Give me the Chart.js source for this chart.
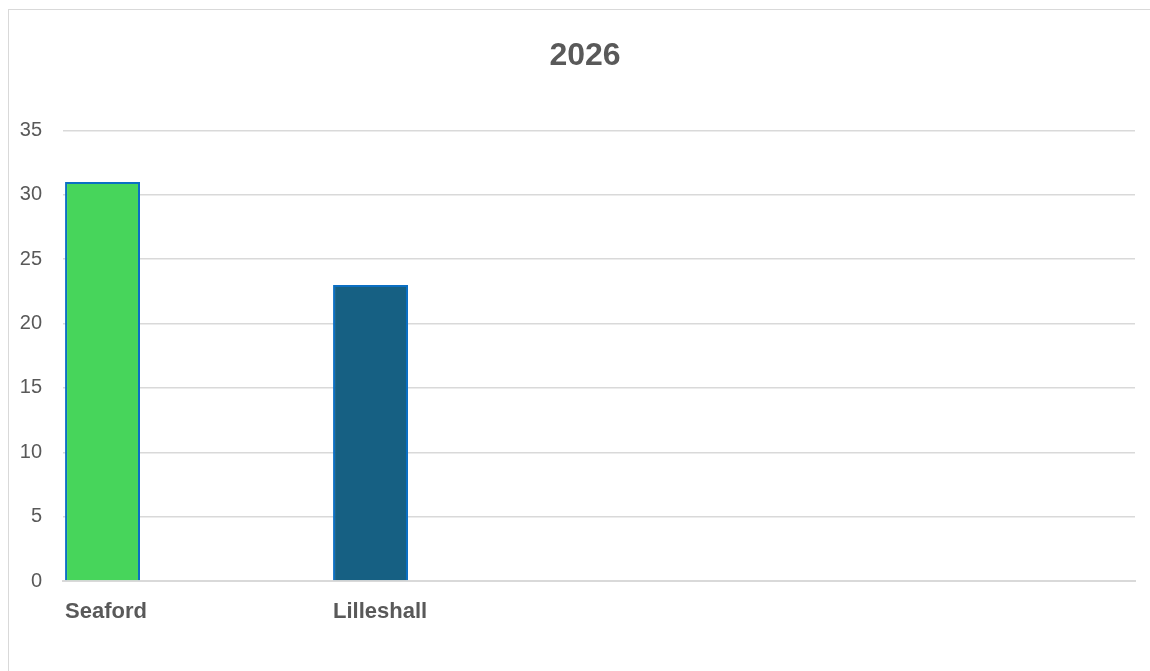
<!DOCTYPE html>
<html>
<head>
<meta charset="utf-8">
<script src="https://cdn.jsdelivr.net/npm/chart.js@4.4.1/dist/chart.umd.min.js"></script>
<style>
  html, body { margin: 0; padding: 0; background: #fff; overflow: hidden; }
  .frame {
    position: absolute; left: 8px; top: 9px;
    width: 1160px; height: 700px;
    border: 1px solid #d9d9d9;
  }
  .wrap { position: absolute; left: 0; top: 0; width: 1170px; height: 671px; }
</style>
</head>
<body>
<div class="frame"></div>
<div class="wrap"><canvas id="chart" width="1170" height="671"></canvas></div>
<script>
// data
const chartTitle = '2026';
const categories = ['Seaford', 'Lilleshall', '', ''];
const values = [31, 23, null, null];
const barColors = ['#47d55b', '#166083'];
const yTicks = [0, 5, 10, 15, 20, 25, 30, 35];

// series kosong seperti di Excel, supaya batang ada di kiri kategori
const emptySeries = [null, null, null, null];

const textColor = '#595959';
const gridColor = '#d9d9d9';

const ctx = document.getElementById('chart').getContext('2d');
const chart = new Chart(ctx, {
    type: 'bar',
    data: {
        labels: categories,
        datasets: [
            {
                label: chartTitle,
                data: values,
                backgroundColor: barColors,
                borderColor: '#0b6fc3',
                borderWidth: 2,
                borderSkipped: 'bottom'
            },
            { label: 's2', data: emptySeries },
            { label: 's3', data: emptySeries },
            { label: 's4', data: emptySeries }
        ]
    },
    options: {
        responsive: false,
        animation: false,
        devicePixelRatio: 1,
        categoryPercentage: 0.94,
        barPercentage: 1.19,
        layout: { padding: 0 },
        plugins: {
            legend: { display: false },
            tooltip: { enabled: false },
            title: {
                display: true,
                text: chartTitle,
                color: textColor,
                font: { family: 'Liberation Sans', size: 32, weight: 'bold' },
                padding: { top: 37, bottom: 55 }
            }
        },
        scales: {
            x: {
                grid: { display: false, drawTicks: false },
                border: { display: true, color: gridColor, width: 2 },
                ticks: {
                    color: textColor,
                    font: { family: 'Liberation Sans', size: 22, weight: 'bold' },
                    align: 'start',
                    labelOffset: -132,
                    padding: 18,
                    maxRotation: 0,
                    autoSkip: false
                },
                afterFit: scale => { scale.height = 90; }
            },
            y: {
                min: 0,
                max: 35,
                afterBuildTicks: scale => {
                    scale.ticks = yTicks.map(v => ({ value: v }));
                },
                grid: { color: gridColor, lineWidth: 1.5, drawTicks: false },
                border: { display: false },
                ticks: {
                    color: textColor,
                    font: { family: 'Liberation Sans', size: 20 },
                    padding: 21
                },
                afterFit: scale => { scale.width = 63; }
            },
            // sumbu kanan kosong, hanya untuk memberi ruang kanan
            yRight: {
                position: 'right',
                min: 0,
                max: 35,
                grid: { display: false, drawTicks: false },
                border: { display: false },
                ticks: { display: false },
                afterFit: scale => { scale.width = 35; }
            }
        }
    }
});
</script>
</body>
</html>
